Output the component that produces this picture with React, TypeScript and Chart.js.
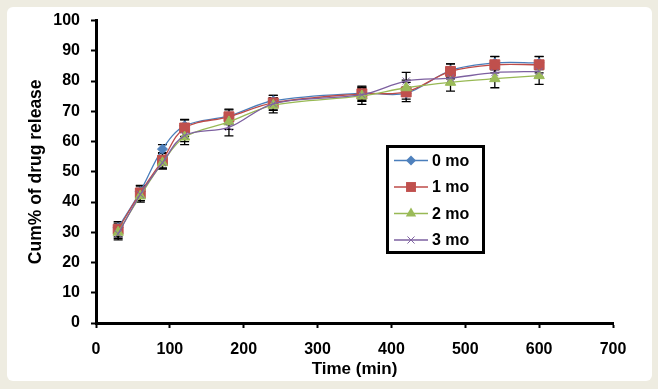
import React, { useEffect, useRef } from 'react';
import { Chart, registerables } from 'chart.js';

Chart.register(...registerables);

const timeMin = [30, 60, 90, 120, 180, 240, 360, 420, 480, 540, 600];
const release0 = [31.5, 43.5, 57.5, 65.2, 68.5, 73.5, 76.0, 76.0, 83.5, 86.0, 86.0];
const release1 = [31.0, 43.0, 53.8, 64.5, 68.2, 72.8, 75.8, 76.4, 83.2, 85.4, 85.4];
const release2 = [30.0, 42.0, 53.0, 61.5, 66.5, 72.0, 75.1, 77.8, 79.6, 80.8, 81.8];
const release3 = [29.5, 42.5, 53.0, 62.0, 64.7, 72.5, 75.5, 80.0, 81.0, 82.8, 83.2];
const err0 = [1.5, 1.8, 1.5, 2.0, 2.0, 1.8, 2.0, 2.0, 2.2, 2.2, 2.2];
const err1 = [2.5, 2.5, 2.5, 2.8, 2.5, 2.5, 2.5, 3.2, 2.5, 2.7, 2.7];
const err2 = [2.0, 2.0, 2.0, 2.5, 2.5, 2.5, 2.8, 2.5, 2.9, 3.0, 2.9];
const err3 = [2.0, 2.0, 2.0, 2.0, 2.8, 2.0, 2.0, 2.9, 2.0, 2.0, 2.0];
const seriesLabels = ['0 mo', '1 mo', '2 mo', '3 mo'];
const xTitle = 'Time (min)';
const yTitle = 'Cum% of drug release';

const FONT = "'Liberation Sans', Arial, sans-serif";
const lineColors = ['#4a7ebb', '#be4b48', '#98b954', '#7d60a0'];
const fillColors = ['#4f81bd', '#c0504d', '#9bbb59', '#8064a2'];
const styles = ['rectRot', 'rect', 'triangle', 'crossRot'];
const radii = [5, 7, 6, 5];

function drawMarker(ctx: CanvasRenderingContext2D, style: string, x: number, y: number, r: number, color: string) {
  ctx.save();
  ctx.fillStyle = color;
  ctx.strokeStyle = color;
  ctx.lineWidth = 1;
  ctx.beginPath();
  if (style === 'rectRot') {
    ctx.moveTo(x, y - r); ctx.lineTo(x + r, y); ctx.lineTo(x, y + r); ctx.lineTo(x - r, y); ctx.closePath(); ctx.fill();
  } else if (style === 'rect') {
    const s = Math.SQRT1_2 * r;
    ctx.rect(x - s, y - s, 2 * s, 2 * s); ctx.fill();
  } else if (style === 'triangle') {
    ctx.moveTo(x, y - r); ctx.lineTo(x + r * 0.866, y + r * 0.5); ctx.lineTo(x - r * 0.866, y + r * 0.5); ctx.closePath(); ctx.fill();
  } else {
    const s = r * Math.SQRT1_2;
    ctx.moveTo(x - s, y - s); ctx.lineTo(x + s, y + s); ctx.moveTo(x + s, y - s); ctx.lineTo(x - s, y + s); ctx.stroke();
  }
  ctx.restore();
}

const errorBarPlugin = {
  id: 'errorBars',
  beforeDatasetsDraw(chart: any) {
    const ctx = chart.ctx;
    const xs = chart.scales.x;
    const ys = chart.scales.y;
    const errs = [err0, err1, err2, err3];
    ctx.save();
    ctx.strokeStyle = '#000';
    ctx.lineWidth = 1.3;
    chart.data.datasets.forEach((ds: any, di: number) => {
      ds.data.forEach((p: any, i: number) => {
        const e = errs[di][i];
        const px = xs.getPixelForValue(p.x);
        const yt = ys.getPixelForValue(p.y + e);
        const yb = ys.getPixelForValue(p.y - e);
        ctx.beginPath();
        ctx.moveTo(px, yt); ctx.lineTo(px, yb);
        ctx.moveTo(px - 4.5, yt); ctx.lineTo(px + 4.5, yt);
        ctx.moveTo(px - 4.5, yb); ctx.lineTo(px + 4.5, yb);
        ctx.stroke();
      });
    });
    ctx.restore();
  },
};

const legendPlugin = {
  id: 'boxLegend',
  afterDraw(chart: any) {
    const ctx = chart.ctx;
    ctx.save();
    ctx.fillStyle = '#fff';
    ctx.fillRect(387, 146, 97, 107);
    ctx.strokeStyle = '#000';
    ctx.lineWidth = 3;
    ctx.strokeRect(387.5, 146.5, 96, 106);
    seriesLabels.forEach((lab, i) => {
      const y = 160.5 + i * 26.5;
      ctx.strokeStyle = lineColors[i];
      ctx.lineWidth = 1.3;
      ctx.beginPath();
      ctx.moveTo(394, y); ctx.lineTo(428, y);
      ctx.stroke();
      drawMarker(ctx, styles[i], 411, y, radii[i], fillColors[i]);
      ctx.fillStyle = '#000';
      ctx.font = `bold 16px ${FONT}`;
      ctx.textAlign = 'left';
      ctx.textBaseline = 'middle';
      ctx.fillText(lab, 432, y + 1);
    });
    ctx.restore();
  },
};

export default function App() {
  const ref = useRef<HTMLCanvasElement>(null);
  useEffect(() => {
    const series = [release0, release1, release2, release3];
    const chart = new Chart(ref.current!, {
      type: 'line',
      data: {
        datasets: series.map((s, i) => ({
          label: seriesLabels[i],
          data: s.map((v, j) => ({ x: timeMin[j], y: v })),
          borderColor: lineColors[i],
          backgroundColor: fillColors[i],
          pointBackgroundColor: fillColors[i],
          pointBorderColor: fillColors[i],
          pointBorderWidth: 1,
          pointStyle: styles[i] as any,
          pointRadius: radii[i],
          borderWidth: 1.3,
          tension: 0.35,
          fill: false,
          order: 4 - i,
        })),
      },
      options: {
        animation: false,
        responsive: false,
        devicePixelRatio: 1,
        layout: { padding: { left: 0, top: 17, right: 45, bottom: 0 } },
        plugins: { legend: { display: false }, tooltip: { enabled: false } },
        scales: {
          x: {
            type: 'linear',
            min: 0,
            max: 700,
            afterFit: (s: any) => { s.height = 66; },
            ticks: { stepSize: 100, color: '#000', padding: 12, font: { family: FONT, size: 16, weight: 'bold' } },
            grid: { drawOnChartArea: false, tickLength: 5, tickWidth: 2, tickColor: '#000' },
            border: { color: '#000', width: 3 },
            title: { display: true, text: xTitle, color: '#000', padding: { bottom: 9, top: 0 }, font: { family: FONT, size: 17, weight: 'bold' } },
          },
          y: {
            min: 0,
            max: 100,
            afterFit: (s: any) => { s.width = 96; },
            ticks: { stepSize: 10, color: '#000', padding: 11, font: { family: FONT, size: 16, weight: 'bold' } },
            grid: { drawOnChartArea: false, tickLength: 5, tickWidth: 2, tickColor: '#000' },
            border: { color: '#000', width: 3 },
            title: { display: true, text: yTitle, color: '#000', padding: { top: 26, bottom: 0 }, font: { family: FONT, size: 17.5, weight: 'bold' } },
          },
        },
      },
      plugins: [errorBarPlugin, legendPlugin],
    });
    return () => chart.destroy();
  }, []);

  return (
    <div style={{ position: 'fixed', left: 0, top: 0, width: 658, height: 389, background: '#eeece1', overflow: 'hidden' }}>
      <div style={{ position: 'absolute', left: 7, top: 7, width: 645, height: 374, background: '#fff', borderRadius: 6 }} />
      <canvas ref={ref} width={658} height={389} style={{ position: 'absolute', left: 0, top: 0, width: 658, height: 389 }} />
    </div>
  );
}
